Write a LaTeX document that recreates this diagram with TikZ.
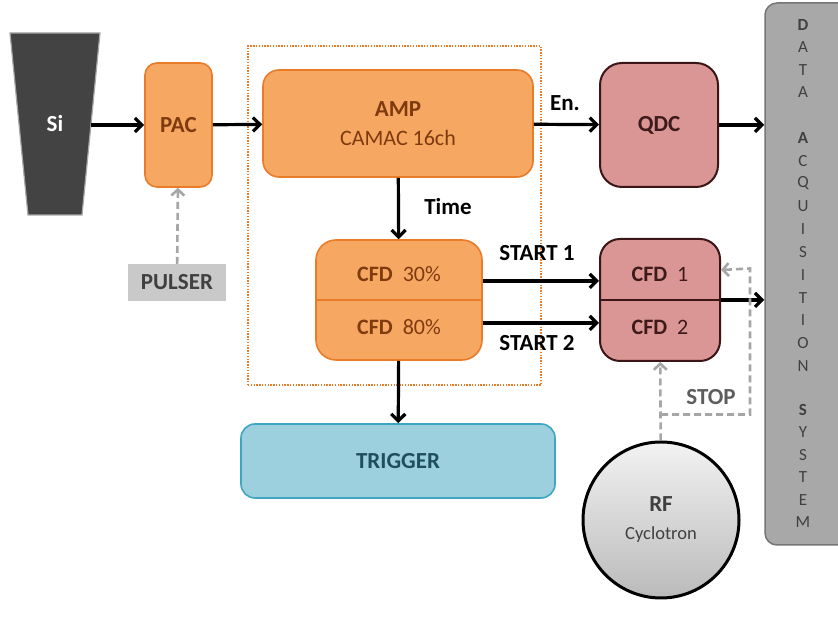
\documentclass[tikz,border=0pt]{standalone}
\usepackage{fontspec}
\setmainfont{Carlito}
\usetikzlibrary{arrows.meta}

\definecolor{orfill}{HTML}{F6A863}
\definecolor{ordraw}{HTML}{E87C28}
\definecolor{ortext}{HTML}{7F3A0E}
\definecolor{pkfill}{HTML}{D99694}
\definecolor{pkdraw}{HTML}{3C1616}
\definecolor{pktext}{HTML}{3F1A1A}
\definecolor{tlfill}{HTML}{9DD0DE}
\definecolor{tldraw}{HTML}{3FA6C0}
\definecolor{tltext}{HTML}{1F4F5F}
\definecolor{gyfill}{HTML}{A8A8A8}
\definecolor{gydraw}{HTML}{757575}
\definecolor{gytext}{HTML}{404040}
\definecolor{sifill}{HTML}{434343}
\definecolor{dashgray}{HTML}{A6A6A6}
\definecolor{pulsefill}{HTML}{C9C9C9}

\tikzset{
  big/.style={font=\fontsize{22}{26}\selectfont},
  bigbold/.style={font=\fontsize{23}{27}\selectfont\bfseries},
  obox/.style={draw=ordraw, fill=orfill, line width=1.6pt, text=ortext, align=center, inner sep=0pt},
  pbox/.style={draw=pkdraw, fill=pkfill, line width=2pt, text=pktext, align=center, inner sep=0pt},
  arr/.style={draw=black, line width=3.2pt, -{Straight Barb[length=7pt,width=14pt]}},
  dasharr/.style={draw=dashgray, line width=2.6pt, dash pattern=on 7pt off 4pt, -{Straight Barb[length=6pt,width=13pt]}},
  lbl/.style={bigbold, inner sep=0pt},
  daqletter/.style={font=\fontsize{17}{19}\selectfont, text=gytext, inner sep=0pt}
}

\begin{document}
\begin{tikzpicture}[x=1pt, y=1pt, big]
\useasboundingbox (0,0) rectangle (838,617);
\fill[white] (0,0) rectangle (838,617);

% dotted frame around the shaping stage
\node[draw=ordraw, line width=2pt, dash pattern=on 1.4pt off 1.4pt,
      minimum width=293, minimum height=339, inner sep=0pt] (grp) at (394.5,401.5) {};

% silicon detector (tapered plate)
\filldraw[fill=sifill, draw=dashgray, line width=1.2pt]
  (10,584) -- (100,584) -- (82,402) -- (28,402) -- cycle;
\node[bigbold, text=white, inner sep=0pt] (si) at (55,493) {Si};
\coordinate (si-out) at (91,492);

% preamplifier and pulser
\node[obox, bigbold, rounded corners=12pt, minimum width=67, minimum height=124] (pac) at (178.5,492) {PAC};
\node[fill=pulsefill, text=gytext, minimum width=98, minimum height=37, inner sep=0pt,
      bigbold] (pulser) at (177,334.5) {PULSER};

% amplifier
\node[obox, rounded corners=16pt, minimum width=270, minimum height=107] (amp) at (398,493.5)
  {{\bfseries\fontsize{23}{27}\selectfont AMP}\\[3pt]CAMAC 16ch};

% constant fraction discriminators
\node[obox, rounded corners=20pt, minimum width=166, minimum height=120] (cfdo) at (399,317) {};
\draw[ordraw, line width=1.6pt] (cfdo.west) -- (cfdo.east);
\node[text=ortext, inner sep=0pt] (cfd30) at (399,343) {\textbf{CFD}\ \ 30\%};
\node[text=ortext, inner sep=0pt] (cfd80) at (399,290) {\textbf{CFD}\ \ 80\%};

% trigger
\node[draw=tldraw, fill=tlfill, line width=1.6pt, rounded corners=14pt,
      minimum width=314, minimum height=74, text=tltext, inner sep=0pt,
      bigbold] (trig) at (398,156) {TRIGGER};

% QDC and TDC inputs
\node[pbox, bigbold, rounded corners=22pt, minimum width=118, minimum height=124] (qdc) at (659,492) {QDC};
\node[pbox, rounded corners=20pt, minimum width=120, minimum height=122] (cfdp) at (660,317) {};
\node[text=pktext, inner sep=0pt] (cfd1) at (660,343) {\textbf{CFD}\ \ 1};
\node[text=pktext, inner sep=0pt] (cfd2) at (660,290) {\textbf{CFD}\ \ 2};

% cyclotron RF
\node[circle, draw=black, line width=3pt, top color=white!95!black, bottom color=black!27,
      minimum size=156, inner sep=0pt, text=gytext, align=center] (rf) at (661,97)
  {{\bfseries\fontsize{23}{27}\selectfont RF}\\[2pt]{\fontsize{18.5}{20}\selectfont Cyclotron}};

% data acquisition system
\node[draw=gydraw, fill=gyfill, line width=1.5pt, rounded corners=12pt,
      minimum width=85, minimum height=542, inner sep=0pt] (daq) at (807.5,343) {};
\foreach \ch/\yy [count=\i] in {{\textbf{D}}/25, A/47.5, T/70, A/92.5,
    {\textbf{A}}/138, C/160.8, Q/183.6, U/206.4, I/229.2, S/252, I/274.8, T/297.6, I/320.4, O/343.2, N/366,
    {\textbf{S}}/410, Y/432.4, S/454.8, T/477.2, E/499.6, M/522}
  \node[daqletter] (daq-\i) at (803,{617-\yy}) {\ch};

% signal connections
\draw[arr] (si-out) -- (pac);
\draw[arr] (pac) -- (amp);
\draw[arr] (amp) -- (qdc);
\draw[arr] (qdc) -- (qdc -| daq.west);
\draw[arr] (amp) -- (cfdo);
\draw[arr] (cfdo) -- (trig);
\draw[arr] ([yshift=19pt]cfdo.east) -- ([yshift=19pt]cfdp.west);
\draw[arr] ([yshift=-23pt]cfdo.east) -- ([yshift=-23pt]cfdp.west);
\draw[line width=2.6pt, pkdraw] (cfdp.west) -- (cfdp.east);
\draw[arr] (cfdp.east) -- (cfdp.east -| daq.west);

% pulser and stop signals
\draw[dasharr] (pulser) -- (pac);
\draw[dasharr] (rf) -- (cfdp);
\draw[dasharr] (rf.north) ++(0,26) -| ++(89,146) -- ([yshift=30pt]cfdp.east);

% labels
\node[lbl] (en) at (565,514) {En.};
\node[lbl] (time) at (448,410) {Time};
\node[lbl] (start1) at (537,364) {START 1};
\node[lbl] (start2) at (537,274) {START 2};
\node[lbl, text=gytext!85!white] (stop) at (711,220) {STOP};
\end{tikzpicture}
\end{document}
